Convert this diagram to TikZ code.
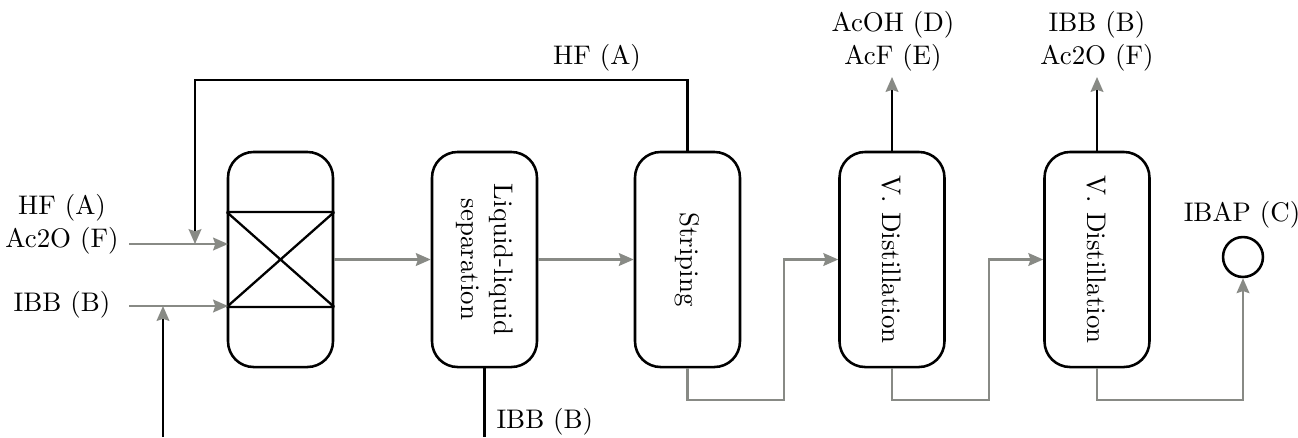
\documentclass[tikz,border=0pt]{standalone}
\usetikzlibrary{arrows.meta}
\definecolor{grayc}{RGB}{136,138,133}
\begin{document}
\begin{tikzpicture}[x=0.390625pt,y=-0.390625pt,
  every node/.style={font=\fontsize{10.5}{13}\selectfont},
  unit/.style={draw, line width=1pt, rounded corners=10pt, minimum width=41pt, minimum height=84pt, inner sep=0pt},
  gline/.style={draw=grayc, line width=0.8pt},
  kline/.style={draw=black, line width=0.8pt},
  tip/.style={-{Stealth[length=5.8pt,width=5pt,inset=0.8pt,color=grayc]}},
  lbl/.style={align=center, inner sep=0pt},
  vtext/.style={rotate=-90, align=center, inner sep=0pt}]
\useasboundingbox (0,0) rectangle (1298,437);

% units
\node[unit] (reac) at (280.5,259.5) {};
\node[unit] (ll) at (484.5,259.5) {};
\node[unit] (strip) at (687.5,259.5) {};
\node[unit] (d1) at (892,259.5) {};
\node[unit] (d2) at (1097,259.5) {};
\node[vtext] (llt) at (ll.center) {Liquid-liquid\\separation};
\node[vtext] (stript) at (strip.center) {Striping};
\node[vtext] (d1t) at (d1.center) {V. Distillation};
\node[vtext] (d2t) at (d2.center) {V. Distillation};
\node[draw, circle, line width=1pt, minimum size=15.6pt, inner sep=0pt] (prod) at (1243,257) {};

% reactor packing
\coordinate (rtl) at (reac.west |- 0,212);
\coordinate (rtr) at (reac.east |- 0,212);
\coordinate (rbl) at (reac.west |- 0,307);
\coordinate (rbr) at (reac.east |- 0,307);
\draw[line width=0.9pt] (rtl) -- (rtr) (rbl) -- (rbr) (rtl) -- (rbr) (rbl) -- (rtr);

% labels
\node[lbl] (inA) at (62,224.5) {HF (A)\\Ac2O (F)};
\node[lbl] (inB) at (62,305) {IBB (B)};
\node[lbl] (recA) at (597,58) {HF (A)};
\node[lbl] (outD) at (893,41) {AcOH (D)\\AcF (E)};
\node[lbl] (outB) at (1097,41) {IBB (B)\\Ac2O (F)};
\node[lbl] (outC) at (1242,215) {IBAP (C)};
\node[lbl, anchor=west] (llB) at (496,422) {IBB (B)};

% coordinates
\coordinate (a0) at (129,244);
\coordinate (a1) at (228,244);
\coordinate (b0) at (129,306);
\coordinate (b1) at (228,306);
\coordinate (f0) at (163,437);
\coordinate (f1) at (163,306);
\coordinate (r1) at (195,244);
\coordinate (llbot) at (484.5,437);
\coordinate (t1) at (892,77);
\coordinate (t2) at (1097,77);

% gray streams
\draw[gline,tip] (a0) -- (a1);
\draw[gline,tip] (b0) -- (b1);
\draw[gline,tip] (reac.east) -- (ll.west);
\draw[gline,tip] (ll.east) -- (strip.west);
\draw[gline,tip] (strip.south) -- (687.5,400) -- (784,400) -- (784,259.5) -- (d1.west);
\draw[gline,tip] (d1.south) -- (892,400) -- (989,400) -- (989,259.5) -- (d2.west);
\draw[gline,tip] (d2.south) -- (1097,400) -- (1243,400) -- (prod.south);

% black streams
\draw[kline,tip] (strip.north) -- (687.5,80) -- (195,80) -- (r1);
\draw[kline,tip] (f0) -- (f1);
\draw[kline] (ll.south) -- (llbot);
\draw[kline,tip] (d1.north) -- (t1);
\draw[kline,tip] (d2.north) -- (t2);
\end{tikzpicture}
\end{document}
